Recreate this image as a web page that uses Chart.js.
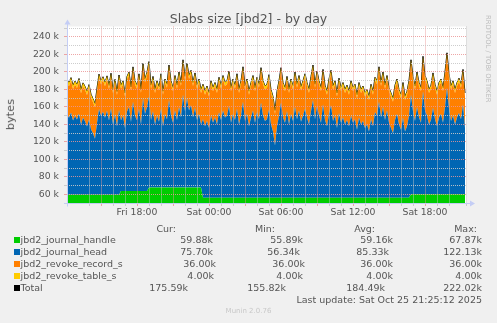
<!DOCTYPE html>
<html>
<head>
<meta charset="utf-8">
<script src="https://cdn.jsdelivr.net/npm/chart.js@4/dist/chart.umd.min.js"></script>
<style>
  html, body { margin: 0; padding: 0; background: #f0f0f0; }
  #wrap { position: relative; width: 497px; height: 323px; overflow: hidden; font-family: "DejaVu Sans", sans-serif; color: #555; }
  #chart { position: absolute; left: 0; top: 0; }
  .t { position: absolute; white-space: nowrap; font-size: 9.5px; line-height: 11px; }
  .sq { position: absolute; width: 6px; height: 6px; }
  #title { position: absolute; left: 0; width: 497px; top: 11px; text-align: center; font-size: 12.5px; line-height: 16px; }
  #ylab { position: absolute; left: 4px; top: 99px; font-size: 11.3px; line-height: 14px; writing-mode: vertical-rl; transform: rotate(180deg); }
  #rrd { position: absolute; left: 484px; top: 15px; font-size: 6.8px; line-height: 8px; color: #bbb; writing-mode: vertical-rl; }
  #munin { position: absolute; left: 0; width: 497px; top: 307px; text-align: center; font-size: 7px; line-height: 9px; color: #c8c8c8; }
</style>
</head>
<body>
<div id="wrap">
  <canvas id="chart" width="497" height="323"></canvas>
  <div id="title">Slabs size [jbd2] - by day</div>
  <div id="ylab">bytes</div>
  <div id="rrd">RRDTOOL / TOBI OETIKER</div>
  <div id="munin">Munin 2.0.76</div>
</div>
<script>
// samples every 10 minutes, first one Fri 12:10 (hours counted from Fri 00:00)
const sampleStartHour = 12 + 10 / 60;
const sampleStepHour = 10 / 60;
const xMinHour = 12 + 10 / 60;
const xMaxHour = 45 + 25 / 60;

const xLabelHours = [18, 24, 30, 36, 42];
const xLabelTexts = ["Fri 18:00", "Sat 00:00", "Sat 06:00", "Sat 12:00", "Sat 18:00"];
const yLabelValues = [60, 80, 100, 120, 140, 160, 180, 200, 220, 240];

// jbd2_journal_handle is a step series: value held from each start hour on (k)
const handleStepFrom = [12 + 10 / 60, 16.58, 18.94, 23.44, 40.81];
const handleStepValue = [59.5, 63.8, 67.87, 55.89, 59.88];

// jbd2_journal_head (k), one value per sample
const journalHead = [
  92, 88, 94, 85, 90, 86, 93, 80, 88, 84, 78, 86, 75, 70, 64, 82, 98, 90, 95, 88,
  96, 85, 99, 80, 92, 78, 97, 81, 86, 72, 91, 96, 79, 102, 86, 81, 94, 76, 106, 88,
  96, 104, 77, 87, 72, 82, 75, 90, 70, 84, 78, 100, 82, 74, 88, 77, 92, 80, 106, 87,
  102, 88, 94, 80, 91, 77, 84, 72, 90, 82, 88, 80, 94, 86, 92, 84, 98, 89, 100, 92,
  94, 105, 86, 96, 89, 102, 84, 94, 110, 88, 96, 82, 92, 100, 86, 98, 90, 109, 94, 88,
  90, 101, 84, 76, 60, 82, 94, 109, 92, 86, 99, 84, 96, 88, 104, 90, 100, 87, 94, 102,
  92, 84, 99, 112, 90, 105, 94, 86, 107, 89, 82, 96, 106, 88, 94, 80, 97, 86, 92, 84,
  89, 82, 94, 86, 90, 78, 92, 84, 88, 80, 84, 76, 90, 82, 98, 94, 110, 92, 104, 89,
  100, 86, 80, 74, 89, 96, 84, 78, 92, 76, 82, 94, 114, 95, 84, 100, 88, 82, 118, 96,
  90, 80, 85, 99, 86, 78, 88, 92, 82, 100, 122, 98, 84, 90, 80, 88, 93, 86, 103, 76
];
const revokeRecordValue = 36.0;
const revokeTableValue = 4.0;

const legendNames = ["jbd2_journal_handle", "jbd2_journal_head", "jbd2_revoke_record_s", "jbd2_revoke_table_s", "Total"];
const legendCur = ["59.88k", "75.70k", "36.00k", "4.00k", "175.59k"];
const legendMin = ["55.89k", "56.34k", "36.00k", "4.00k", "155.82k"];
const legendAvg = ["59.16k", "85.33k", "36.00k", "4.00k", "184.49k"];
const legendMax = ["67.87k", "122.13k", "36.00k", "4.00k", "222.02k"];
const legendHeads = ["Cur:", "Min:", "Avg:", "Max:"];
const lastUpdate = "Last update: Sat Oct 25 21:25:12 2025";

const seriesColors = ["#00cc00", "#0066b3", "#ff8000", "#ffcc00", "#000000"];

// legend layout (px)
const headRight = [176, 275, 375, 477];
const headY = 228;
const rowY0 = 239.5;
const rowGap = 12;
const colRight = [
  [213, 303, 393, 482],
  [213, 300, 389, 482],
  [216, 305, 393, 482],
  [214, 303, 393, 482],
  [188, 286, 385, 482],
];

const wrap = document.getElementById("wrap");

function addText(text, y, opts) {
  const el = document.createElement("div");
  el.className = "t";
  el.textContent = text;
  el.style.top = `${y - 5.5}px`;
  if (opts.right !== undefined) el.style.right = `${497 - opts.right}px`;
  else el.style.left = `${opts.left}px`;
  wrap.appendChild(el);
}

legendHeads.forEach((h, i) => addText(h, headY, { right: headRight[i] }));
legendNames.forEach((name, r) => {
  const y = rowY0 + r * rowGap;
  const sq = document.createElement("div");
  sq.className = "sq";
  sq.style.left = "14px";
  sq.style.top = `${y - 3}px`;
  sq.style.background = seriesColors[r];
  wrap.appendChild(sq);
  addText(name, y, { left: 20.5 });
  [legendCur, legendMin, legendAvg, legendMax].forEach((col, c) => {
    addText(col[r], y, { right: colRight[r][c] });
  });
});
addText(lastUpdate, 299.5, { right: 482 });

// build series
const times = journalHead.map((_, i) => sampleStartHour + i * sampleStepHour);
function handleAt(t) {
  let v = handleStepValue[0];
  handleStepFrom.forEach((from, k) => { if (t >= from - 1e-9) v = handleStepValue[k]; });
  return v;
}
const journalHandle = times.map(handleAt);
const revokeRecord = times.map(() => revokeRecordValue);
const revokeTable = times.map(() => revokeTableValue);
const total = times.map((_, i) => journalHandle[i] + journalHead[i] + revokeRecord[i] + revokeTable[i]);

const pts = (arr) => arr.map((y, i) => ({ x: times[i], y }));

const GRID_MINOR = "rgba(200,200,200,0.9)";
const GRID_MAJOR = "rgba(235,150,150,0.85)";
const AXIS = "#c4cdf5";

const chromePlugin = {
  id: "chrome",
  beforeDraw(chart) {
    const { ctx, chartArea: a } = chart;
    ctx.save();
    ctx.fillStyle = "#ffffff";
    ctx.fillRect(a.left, a.top, a.right - a.left, a.bottom - a.top);
    ctx.restore();
  },
  afterDraw(chart) {
    const { ctx, chartArea: a } = chart;
    ctx.save();
    ctx.strokeStyle = AXIS;
    ctx.fillStyle = AXIS;
    ctx.lineWidth = 1;
    const lx = Math.round(a.left) + 0.5;
    const by = Math.round(a.bottom) + 0.5;
    ctx.beginPath();
    ctx.moveTo(lx, by + 3);
    ctx.lineTo(lx, a.top - 3);
    ctx.moveTo(a.left - 3, by);
    ctx.lineTo(a.right + 5, by);
    ctx.stroke();
    ctx.beginPath();
    ctx.moveTo(lx - 3, a.top - 2);
    ctx.lineTo(lx + 3, a.top - 2);
    ctx.lineTo(lx, a.top - 7);
    ctx.closePath();
    ctx.fill();
    ctx.beginPath();
    ctx.moveTo(a.right + 4, by - 3);
    ctx.lineTo(a.right + 4, by + 3);
    ctx.lineTo(a.right + 9, by);
    ctx.closePath();
    ctx.fill();
    ctx.restore();
  },
};

const area = (label, data, color, fill) => ({
  label, data: pts(data), backgroundColor: color, borderColor: color,
  borderWidth: 0, pointRadius: 0, fill, tension: 0,
});

new Chart(document.getElementById("chart"), {
  type: "line",
  data: {
    datasets: [
      area(legendNames[0], journalHandle, seriesColors[0], "origin"),
      area(legendNames[1], journalHead, seriesColors[1], "-1"),
      area(legendNames[2], revokeRecord, seriesColors[2], "-1"),
      area(legendNames[3], revokeTable, seriesColors[3], "-1"),
      {
        label: legendNames[4], data: pts(total), stack: "total",
        borderColor: seriesColors[4], borderWidth: 1, pointRadius: 0, fill: false, tension: 0,
      },
    ],
  },
  options: {
    responsive: false,
    devicePixelRatio: 1,
    animation: false,
    events: [],
    layout: { padding: { top: 26.5, right: 31, left: 0, bottom: 0 } },
    plugins: { legend: { display: false }, tooltip: { enabled: false } },
    scales: {
      x: {
        type: "linear",
        min: xMinHour,
        max: xMaxHour,
        afterFit: (s) => { s.height = 120; },
        border: { display: false, dash: [1, 1] },
        grid: {
          z: 1,
          tickLength: 3,
          color: (c) => (c.tick && c.tick.value % 3 === 0 ? GRID_MAJOR : GRID_MINOR),
        },
        ticks: {
          stepSize: 1,
          maxTicksLimit: 1000,
          autoSkip: false,
          maxRotation: 0,
          minRotation: 0,
          padding: 1,
          color: "#555",
          font: { family: "DejaVu Sans", size: 9.3 },
          callback: (v) => {
            const k = xLabelHours.indexOf(v);
            return k >= 0 ? xLabelTexts[k] : "";
          },
        },
      },
      y: {
        stacked: true,
        min: 50,
        max: 252,
        afterFit: (s) => { s.width = 67; },
        border: { display: false, dash: [1, 1] },
        grid: {
          z: 1,
          tickLength: 3,
          color: (c) => (c.tick && c.tick.value % 20 === 0 ? GRID_MAJOR : GRID_MINOR),
        },
        ticks: {
          stepSize: 10,
          maxTicksLimit: 1000,
          includeBounds: false,
          autoSkip: false,
          padding: 5,
          color: "#555",
          font: { family: "DejaVu Sans", size: 9.3 },
          callback: (v) => (yLabelValues.includes(v) ? `${v} k` : ""),
        },
      },
    },
  },
  plugins: [chromePlugin],
});
</script>
</body>
</html>
